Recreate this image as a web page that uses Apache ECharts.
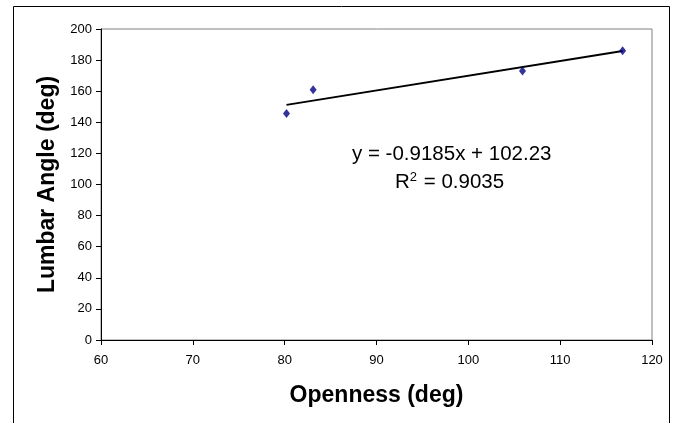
<!DOCTYPE html>
<html>
<head>
<meta charset="utf-8">
<script src="https://cdn.jsdelivr.net/npm/echarts@6/dist/echarts.min.js"></script>
<style>
  html, body { margin: 0; padding: 0; background: #fff; }
  #chart { width: 676px; height: 423px; }
</style>
</head>
<body>
<div id="chart"></div>
<script>
// measured points
var openness = [80.2, 83.1, 105.9, 116.8];
var lumbarAngle = [145.7, 161.0, 173.0, 186.0];
// trendline ends
var trendX = [80.2, 116.8];
var trendY = [151.2, 185.8];

var xTicks = [60, 70, 80, 90, 100, 110, 120];
var yTicks = [0, 20, 40, 60, 80, 100, 120, 140, 160, 180, 200];

var font = 'Liberation Sans, Arial, sans-serif';

var option = {
    backgroundColor: '#fff',
    animation: false,
    grid: { left: 101, right: 24, top: 29, bottom: 83, show: true, borderColor: '#808080', borderWidth: 1 },
    xAxis: {
        type: 'value',
        min: xTicks[0],
        max: xTicks[xTicks.length - 1],
        interval: 10,
        name: 'Openness (deg)',
        nameLocation: 'middle',
        nameGap: 44,
        nameTextStyle: { fontFamily: font, fontWeight: 'bold', fontSize: 23, color: '#000' },
        axisLine: { lineStyle: { color: '#000', width: 1 } },
        axisTick: { show: true, length: 5, lineStyle: { color: '#000' } },
        axisLabel: { margin: 14, fontFamily: font, fontSize: 13, color: '#000' },
        splitLine: { show: false }
    },
    yAxis: {
        type: 'value',
        min: yTicks[0],
        max: yTicks[yTicks.length - 1],
        interval: 20,
        name: 'Lumbar Angle (deg)',
        nameLocation: 'middle',
        nameGap: 40,
        nameRotate: 90,
        nameTextStyle: { fontFamily: font, fontWeight: 'bold', fontSize: 23, color: '#000' },
        axisLine: { show: true, lineStyle: { color: '#000', width: 1 } },
        axisTick: { show: true, length: 5, lineStyle: { color: '#000' } },
        axisLabel: { margin: 9, fontFamily: font, fontSize: 13, color: '#000' },
        splitLine: { show: false }
    },
    graphic: [
        {
            type: 'rect',
            shape: { x: 13.5, y: 6.5, width: 656, height: 430 },
            style: { fill: 'none', stroke: '#000', lineWidth: 1 },
            silent: true,
            z: 100
        },
        {
            type: 'text',
            left: 352,
            top: 144,
            style: {
                text: 'y = -0.9185x + 102.23',
                font: '20.5px ' + font,
                fill: '#000'
            }
        },
        {
            type: 'text',
            left: 395,
            top: 171,
            style: {
                text: 'R{sup|2} = 0.9035',
                font: '20.5px ' + font,
                fill: '#000',
                rich: {
                    sup: { fontSize: 13, fontFamily: font, verticalAlign: 'top', padding: [0, 1, 10, 0], fill: '#000' }
                }
            }
        }
    ],
    series: [
        {
            type: 'line',
            data: trendX.map(function (x, i) { return [x, trendY[i]]; }),
            symbol: 'none',
            lineStyle: { color: '#000', width: 2 },
            z: 2
        },
        {
            type: 'scatter',
            data: openness.map(function (x, i) { return [x, lumbarAngle[i]]; }),
            symbol: 'diamond',
            symbolSize: [7, 9],
            itemStyle: { color: '#000080' },
            z: 3
        }
    ]
};

var myChart = echarts.init(document.getElementById('chart'));
myChart.setOption(option);
</script>
</body>
</html>
